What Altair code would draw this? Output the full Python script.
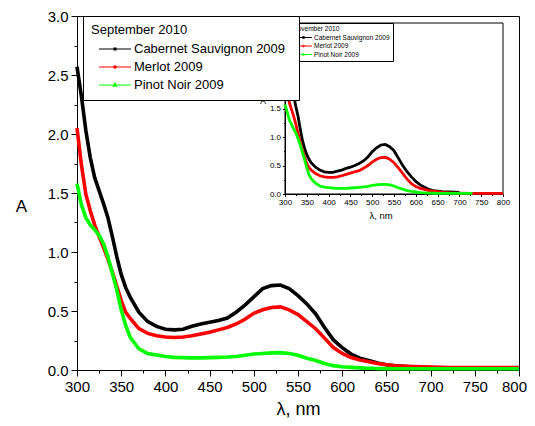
import altair as alt
import pandas as pd

FONT = "Liberation Sans"
SERIES = ["Cabernet Sauvignon 2009", "Merlot 2009", "Pinot Noir 2009"]
COLORS = ["#000000", "#ff0000", "#00ff00"]

X_DOMAIN = [300, 800]
Y_DOMAIN = [0, 3]
X_TICKS = [300, 325, 350, 375, 400, 425, 450, 475, 500, 525, 550, 575, 600,
           625, 650, 675, 700, 725, 750, 775, 800]
Y_TICKS = [0.0, 0.25, 0.5, 0.75, 1.0, 1.25, 1.5, 1.75, 2.0, 2.25, 2.5, 2.75, 3.0]

# September 2010 (main plot)
SEP_NM = [300, 305, 310, 315, 320, 325, 330, 335, 340, 345, 350, 355, 360, 370,
          380, 390, 400, 410, 420, 430, 440, 450, 460, 470, 480, 490, 500, 510,
          520, 530, 540, 550, 560, 570, 580, 590, 600, 610, 620, 630, 640, 650,
          660, 680, 700, 720, 750, 780, 800]
SEP_CAB = [2.57, 2.32, 2.03, 1.80, 1.63, 1.52, 1.41, 1.29, 1.13, 0.96,
           0.81, 0.70, 0.62, 0.49, 0.41, 0.37, 0.345, 0.34, 0.345, 0.37,
           0.39, 0.405, 0.42, 0.44, 0.49, 0.55, 0.62, 0.69, 0.715, 0.72,
           0.69, 0.63, 0.56, 0.475, 0.36, 0.255, 0.19, 0.135, 0.10, 0.08,
           0.06, 0.045, 0.035, 0.025, 0.02, 0.018, 0.015, 0.012, 0.01]
SEP_MER = [2.05, 1.74, 1.49, 1.35, 1.23, 1.13, 1.04, 0.94, 0.83, 0.71,
           0.59, 0.49, 0.44, 0.35, 0.31, 0.29, 0.28, 0.275, 0.28, 0.29,
           0.305, 0.32, 0.34, 0.36, 0.39, 0.43, 0.48, 0.51, 0.53, 0.535,
           0.51, 0.47, 0.41, 0.35, 0.27, 0.19, 0.14, 0.105, 0.085, 0.07,
           0.055, 0.045, 0.035, 0.03, 0.025, 0.02, 0.02, 0.02, 0.02]
SEP_PIN = [1.58, 1.40, 1.29, 1.23, 1.19, 1.14, 1.07, 0.96, 0.82, 0.68,
           0.51, 0.38, 0.28, 0.18, 0.14, 0.127, 0.115, 0.107, 0.105, 0.103,
           0.103, 0.105, 0.107, 0.11, 0.115, 0.125, 0.135, 0.14, 0.145, 0.147,
           0.14, 0.125, 0.10, 0.08, 0.055, 0.037, 0.027, 0.022, 0.018, 0.015,
           0.013, 0.012, 0.011, 0.01, 0.01, 0.01, 0.01, 0.01, 0.01]

# November 2010 (inset)
NOV_NM = [300, 305, 310, 315, 320, 325, 330, 335, 340, 345, 350, 355, 360, 370,
          380, 390, 400, 410, 420, 430, 440, 450, 460, 470, 480, 490, 500, 510,
          520, 530, 540, 550, 560, 570, 580, 590, 600, 610, 620, 630, 640, 650,
          660, 680, 700, 730, 750, 780, 800]
NOV_CAB = [2.55, 2.30, 2.10, 1.90, 1.72, 1.53, 1.36, 1.14, 0.94, 0.80,
           0.69, 0.61, 0.55, 0.47, 0.42, 0.39, 0.38, 0.38, 0.40, 0.42,
           0.45, 0.47, 0.50, 0.535, 0.58, 0.65, 0.74, 0.81, 0.86, 0.87,
           0.83, 0.76, 0.63, 0.50, 0.39, 0.30, 0.22, 0.16, 0.12, 0.08,
           0.06, 0.05, 0.04, 0.035, 0.03, None, None, None, None]
NOV_MER = [2.05, 1.80, 1.60, 1.48, 1.36, 1.22, 1.06, 0.90, 0.77, 0.65,
           0.53, 0.46, 0.42, 0.36, 0.32, 0.30, 0.29, 0.29, 0.30, 0.32,
           0.345, 0.365, 0.39, 0.41, 0.45, 0.50, 0.56, 0.61, 0.64, 0.645,
           0.61, 0.55, 0.46, 0.36, 0.26, 0.18, 0.13, 0.10, 0.08, 0.06,
           0.05, 0.04, 0.03, 0.02, 0.015, 0.012, 0.01, 0.01, 0.01]
NOV_PIN = [1.57, 1.44, 1.30, 1.22, 1.14, 1.07, 0.97, 0.86, 0.73, 0.60,
           0.46, 0.34, 0.27, 0.19, 0.14, 0.12, 0.11, 0.105, 0.10, 0.10,
           0.10, 0.105, 0.11, 0.115, 0.125, 0.135, 0.15, 0.16, 0.17, 0.17,
           0.16, 0.14, 0.11, 0.085, 0.06, 0.045, 0.035, 0.025, 0.02, 0.015,
           0.013, 0.012, 0.011, 0.01, 0.01, 0.01, None, None, None]

# legend symbols: a short line with a small marker in the middle
# (the trailing move-to only widens the legend box to the right)
MAIN_SYMBOLS = [
    "M-2,0L2,0M-0.12,-0.12L0.12,-0.12L0.12,0.12L-0.12,0.12ZM21.7,0",
    "M-2,0L2,0M-0.15,0A0.15,0.15 0 1,0 0.15,0A0.15,0.15 0 1,0 -0.15,0ZM21.7,0",
    "M-2,0L2,0M0,-0.24L0.21,0.14L-0.21,0.14ZM21.7,0",
]
INSET_SYMBOLS = [
    "M-2.4,0L2.4,0M-0.25,-0.25L0.25,-0.25L0.25,0.25L-0.25,0.25Z",
    "M-2.4,0L2.4,0M-0.25,0A0.25,0.25 0 1,0 0.25,0A0.25,0.25 0 1,0 -0.25,0Z",
    "M-2.4,0L2.4,0M0,-0.35L0.3,0.2L-0.3,0.2Z",
]


def long_df(nm, cols):
    rows = []
    for name, vals in zip(SERIES, cols):
        for w, a in zip(nm, vals):
            if a is not None:
                rows.append({"nm": w, "A": a, "series": name})
    return pd.DataFrame(rows)


sep = long_df(SEP_NM, [SEP_CAB, SEP_MER, SEP_PIN])
nov = long_df(NOV_NM, [NOV_CAB, NOV_MER, NOV_PIN])
frame = pd.DataFrame({"x0": [X_DOMAIN[0]], "x1": [X_DOMAIN[1]],
                      "y0": [Y_DOMAIN[0]], "y1": [Y_DOMAIN[1]]})

MAJ_X = "datum.value % 50 === 0"
MAJ_Y = "round(datum.value * 4) % 2 === 0"


def tsize(test, big, small):
    return {"condition": {"test": test, "value": big}, "value": small}


# ---------------- main plot ----------------
main_xs = alt.Scale(domain=X_DOMAIN, nice=False, zero=False)
main_ys = alt.Scale(domain=Y_DOMAIN, nice=False, zero=False)
main_cs = alt.Scale(domain=SERIES, range=COLORS)

main_x_axis = alt.Axis(orient="bottom", values=X_TICKS, format="d",
                       labelExpr=f"{MAJ_X} ? datum.label : ''",
                       labelOffset={"condition": {"test": "datum.value === 800",
                                                  "value": -5}, "value": 0},
                       tickSize=tsize(MAJ_X, 6, 3), labelFontSize=15,
                       labelPadding=3, labelFlush=False, labelOverlap=False,
                       title="λ, nm", titleFontSize=18, titleY=44,
                       titleBaseline="alphabetic")
main_y_axis = alt.Axis(orient="left", values=Y_TICKS, format=".1f",
                       labelExpr=f"{MAJ_Y} ? datum.label : ''",
                       tickSize=tsize(MAJ_Y, 6, 3), labelFontSize=15,
                       labelPadding=3, labelOverlap=False, labelFlush=False,
                       title="A", titleAngle=0, titleFontSize=17,
                       titleX=-56, titleY=190, titleAlign="center",
                       titleBaseline="middle")

main_lines = alt.Chart(sep).mark_line(strokeWidth=3.6).encode(
    x=alt.X("nm:Q", scale=main_xs, axis=main_x_axis),
    y=alt.Y("A:Q", scale=main_ys, axis=main_y_axis),
    color=alt.Color("series:N", scale=main_cs, legend=None),
)

main_leg = dict(title="September 2010", orient="none", legendX=6, legendY=0,
                direction="vertical", fillColor="white", strokeColor="black",
                padding=8, titleFont=FONT, titleFontSize=13,
                titleFontWeight="normal", titleColor="black", titlePadding=3,
                labelFont=FONT, labelFontSize=13, labelColor="black",
                labelLimit=0, symbolSize=256, symbolStrokeWidth=1.2,
                symbolOffset=15, labelOffset=10, rowPadding=2,
                symbolOpacity=1, zindex=2)

main_legend_layer = alt.Chart(sep).mark_point(opacity=0, filled=False).encode(
    x=alt.X("nm:Q", scale=main_xs, axis=None),
    y=alt.Y("A:Q", scale=main_ys, axis=None),
    color=alt.Color("series:N", scale=main_cs, legend=alt.Legend(**main_leg)),
    shape=alt.Shape("series:N", scale=alt.Scale(domain=SERIES, range=MAIN_SYMBOLS),
                    legend=alt.Legend(**main_leg)),
)

# ---------------- inset ----------------
in_xs = alt.Scale(domain=X_DOMAIN, range=[208, 426], nice=False, zero=False)
in_ys = alt.Scale(domain=Y_DOMAIN, range=[178, 7], nice=False, zero=False)
in_cs = alt.Scale(domain=SERIES, range=COLORS)

in_x_axis = alt.Axis(orient="bottom", offset=-176, values=X_TICKS, format="d",
                     labelExpr=f"{MAJ_X} ? datum.label : ''",
                     tickSize=tsize(MAJ_X, 2.5, 1.5), labelFontSize=8,
                     labelPadding=2, labelFlush=False, labelOverlap=False,
                     title="λ, nm", titleFontSize=9.5, titleX=303.5, titleY=24,
                     titleBaseline="alphabetic")
in_y_axis = alt.Axis(orient="left", offset=-208, values=Y_TICKS, format=".1f",
                     labelExpr=f"{MAJ_Y} ? datum.label : ''",
                     tickSize=tsize(MAJ_Y, 2.5, 1.5), labelFontSize=8,
                     labelPadding=2, labelFlush=False, labelOverlap=False,
                     title="A", titleAngle=0, titleFontSize=9, titleX=-22.5,
                     titleY=84, titleAlign="center", titleBaseline="middle")

in_lines = alt.Chart(nov).mark_line(strokeWidth=2.8).encode(
    x=alt.X("nm:Q", scale=in_xs, axis=in_x_axis),
    y=alt.Y("A:Q", scale=in_ys, axis=in_y_axis),
    color=alt.Color("series:N", scale=in_cs, legend=None),
)

in_frame = alt.Chart(frame).mark_rect(fillOpacity=0, stroke="black",
                                      strokeWidth=1).encode(
    x=alt.X("x0:Q", scale=in_xs, axis=None),
    x2="x1:Q",
    y=alt.Y("y0:Q", scale=in_ys, axis=None),
    y2="y1:Q",
)

in_leg = dict(title="November 2010", orient="none", legendX=213, legendY=7,
              direction="vertical", fillColor="white", strokeColor="black",
              padding=3, titleFont=FONT, titleFontSize=6.5,
              titleFontWeight="normal", titleColor="black", titlePadding=1,
              labelFont=FONT, labelFontSize=6.5, labelColor="black",
              labelLimit=0, symbolSize=49, symbolStrokeWidth=1,
              symbolOffset=6.5, labelOffset=6.5, rowPadding=0.5,
              symbolOpacity=1, zindex=1)

in_legend_layer = alt.Chart(nov).mark_point(opacity=0, filled=False).encode(
    x=alt.X("nm:Q", scale=in_xs, axis=None),
    y=alt.Y("A:Q", scale=in_ys, axis=None),
    color=alt.Color("series:N", scale=in_cs, legend=alt.Legend(**in_leg)),
    shape=alt.Shape("series:N", scale=alt.Scale(domain=SERIES, range=INSET_SYMBOLS),
                    legend=alt.Legend(**in_leg)),
)

chart = (
    alt.layer(in_frame, in_lines, in_legend_layer, main_lines, main_legend_layer)
    .resolve_scale(x="independent", y="independent", color="independent",
                   shape="independent")
    .properties(width=442, height=354,
                padding={"left": 69, "top": 8, "right": 8, "bottom": 48},
                autosize=alt.AutoSizeParams(type="none"))
    .configure_view(stroke="black", strokeWidth=1)
    .configure_axis(domainColor="black", tickColor="black", labelColor="black",
                    titleColor="black", labelFont=FONT, titleFont=FONT,
                    titleFontWeight="normal", domainWidth=1, tickWidth=1,
                    grid=False)
)

chart.save("out.html", embed_options={"renderer": "svg", "actions": False})
